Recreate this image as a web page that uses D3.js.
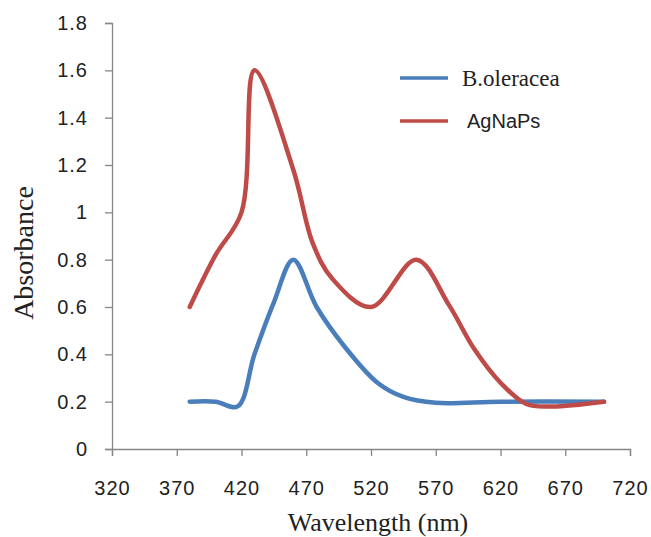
<!DOCTYPE html>
<html>
<head>
<meta charset="utf-8">
<script src="https://cdn.jsdelivr.net/npm/d3@7"></script>
<style>
  body { margin: 0; background: #fff; }
</style>
</head>
<body>
<div id="wrapper"></div>
<script>
// Series (wavelength in nm, absorbance).
const seriesNames = ["B.oleracea", "AgNaPs"]
const seriesColors = ["#4a7ebb", "#be4b48"]

const oleraceaWavelengths = [380, 400, 417, 430, 445, 460, 478, 500, 525, 545, 570, 620, 700]
const oleraceaValues = [0.2, 0.2, 0.18, 0.4, 0.62, 0.8, 0.6, 0.43, 0.28, 0.22, 0.195, 0.2, 0.2]

const agnapsWavelengths = [380, 400, 420, 430, 460, 475, 490, 520, 555, 580, 600, 620, 640, 660, 700]
const agnapsValues = [0.6, 0.82, 1.0, 1.6, 1.18, 0.87, 0.72, 0.6, 0.8, 0.61, 0.42, 0.28, 0.19, 0.18, 0.2]

const xTicks = [320, 370, 420, 470, 520, 570, 620, 670, 720]
const yTicks = [0, 0.2, 0.4, 0.6, 0.8, 1, 1.2, 1.4, 1.6, 1.8]

const dimensions = {
  width: 651,
  height: 537,
  margin: { top: 23, right: 21, bottom: 88, left: 112 },
}
dimensions.boundedWidth = dimensions.width - dimensions.margin.left - dimensions.margin.right
dimensions.boundedHeight = dimensions.height - dimensions.margin.top - dimensions.margin.bottom

const toPoints = (xs, ys) => xs.map((x, i) => ({ wavelength: x, absorbance: ys[i] }))
const datasets = [
  toPoints(oleraceaWavelengths, oleraceaValues),
  toPoints(agnapsWavelengths, agnapsValues),
]

function drawChart() {
  const wrapper = d3.select("#wrapper")
    .append("svg")
      .attr("width", dimensions.width)
      .attr("height", dimensions.height)

  const bounds = wrapper.append("g")
    .attr("transform", `translate(${dimensions.margin.left},${dimensions.margin.top})`)

  const xScale = d3.scaleLinear()
    .domain([320, 720])
    .range([0, dimensions.boundedWidth])

  const yScale = d3.scaleLinear()
    .domain([0, 1.8])
    .range([dimensions.boundedHeight, 0])

  // axes
  const xAxis = bounds.append("g")
    .attr("transform", `translate(0,${dimensions.boundedHeight})`)
    .call(d3.axisBottom(xScale).tickValues(xTicks).tickSizeOuter(0).tickSize(7).tickPadding(25))
  const yAxis = bounds.append("g")
    .call(d3.axisLeft(yScale).tickValues(yTicks).tickFormat(d3.format("~g")).tickSizeOuter(0).tickSize(7).tickPadding(17))

  for (const axis of [xAxis, yAxis]) {
    axis.selectAll("path, line").attr("stroke", "#868686").attr("stroke-width", 1.3)
    axis.selectAll("text")
      .attr("fill", "#222")
      .style("font-family", "'Liberation Sans', Arial, sans-serif")
      .style("font-size", "20px")
      .style("letter-spacing", "1px")
  }
  xAxis.selectAll("text").attr("dy", "0.71em")

  // lines
  const lineGenerator = d3.line()
    .x(d => xScale(d.wavelength))
    .y(d => yScale(d.absorbance))
    .curve(d3.curveCatmullRom.alpha(0.5))

  datasets.forEach((data, i) => {
    bounds.append("path")
      .attr("d", lineGenerator(data))
      .attr("fill", "none")
      .attr("stroke", seriesColors[i])
      .attr("stroke-width", 4.5)
      .attr("stroke-linecap", "round")
      .attr("stroke-linejoin", "round")
  })

  // axis titles
  wrapper.append("text")
    .attr("transform", `translate(33,253) rotate(-90)`)
    .attr("text-anchor", "middle")
    .style("font-family", "'Liberation Serif', 'Times New Roman', serif")
    .style("font-size", "28px")
    .attr("fill", "#222")
    .text("Absorbance")

  wrapper.append("text")
    .attr("x", 378)
    .attr("y", 531)
    .attr("text-anchor", "middle")
    .style("font-family", "'Liberation Serif', 'Times New Roman', serif")
    .style("font-size", "26px")
    .attr("fill", "#222")
    .text("Wavelength (nm)")

  // legend
  const legend = wrapper.append("g")
  const legendY = [78, 121]
  const legendFonts = [
    { family: "'Liberation Serif', 'Times New Roman', serif", size: "23px", x: 462 },
    { family: "'Liberation Sans', Arial, sans-serif", size: "20px", x: 467 },
  ]
  seriesNames.forEach((name, i) => {
    legend.append("line")
      .attr("x1", 400).attr("x2", 448)
      .attr("y1", legendY[i]).attr("y2", legendY[i])
      .attr("stroke", seriesColors[i])
      .attr("stroke-width", 3.5)
    legend.append("text")
      .attr("x", legendFonts[i].x)
      .attr("y", legendY[i])
      .attr("dy", "0.35em")
      .style("font-family", legendFonts[i].family)
      .style("font-size", legendFonts[i].size)
      .attr("fill", "#222")
      .text(name)
  })
}

drawChart()
</script>
</body>
</html>
